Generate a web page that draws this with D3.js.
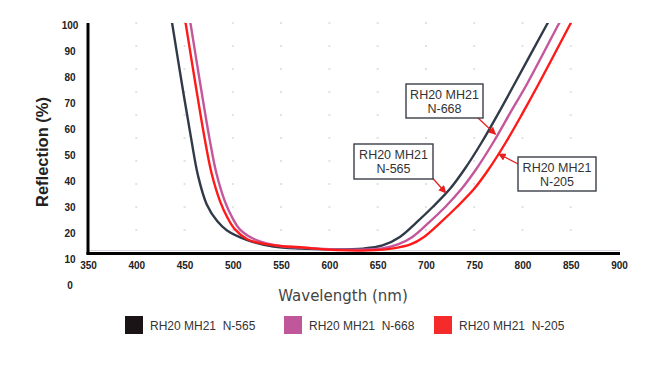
<!DOCTYPE html>
<html>
<head>
<meta charset="utf-8">
<script src="https://cdn.jsdelivr.net/npm/d3@7"></script>
<style>
  body { margin: 0; background: #fff; }
  svg { display: block; }
</style>
</head>
<body>
<svg id="chart" width="671" height="377"></svg>
<script>
// tick labels
const xTicks = [350, 400, 450, 500, 550, 600, 650, 700, 750, 800, 850, 900];
const yTicks = [100, 90, 80, 70, 60, 50, 40, 30, 20, 10, 0];

// series names (legend order)
const names = ["RH20 MH21  N-565", "RH20 MH21  N-668", "RH20 MH21  N-205"];

// [wavelength nm, reflection %]
const n565 = [[437, 101], [447, 78], [457, 56], [464, 42], [473, 31], [484, 24.5], [494, 21], [515, 17.3],
  [542, 14.8], [570, 14], [605, 13.7], [635, 14], [655, 15.2], [673, 18.5], [690, 24], [707, 30],
  [725, 37], [740, 44.5], [758, 55], [775, 66], [792, 77.5], [825, 100], [828, 102]];
const n668 = [[456, 101], [466, 78], [476, 56], [483, 43], [492, 32], [500, 25.5], [507, 21.5], [523, 17.5],
  [549, 15], [580, 14.2], [611, 13.6], [640, 13.7], [656, 14.2], [671, 15.6], [686, 18.5], [703, 24],
  [720, 30], [737, 37], [752, 44.5], [770, 55], [787, 66], [805, 77.5], [837, 100], [840, 102]];
const n205 = [[451, 101], [461, 78], [471, 56], [478, 43], [487, 32], [495, 25.5], [502, 21.5], [515, 17.6],
  [530, 16], [549, 15], [570, 14.5], [608, 13.4], [640, 13.3], [668, 14.2], [684, 15.6], [698, 18.5],
  [715, 24], [732, 30], [750, 37], [765, 44.5], [783, 55], [800, 66], [817, 77.5], [849, 100], [852, 102]];

const colors = ["#303a48", "#c4579c", "#ff1a1a"];
const swatch = ["#1a1416", "#c0579a", "#f52a2a"];

// callouts: label lines, box position, arrow tail and tip (tip in data units)
const callouts = [
  { lines: ["RH20 MH21", "N-668"], box: [406, 84, 77, 34], tail: [477, 117], tip: [772, 58] },
  { lines: ["RH20 MH21", "N-565"], box: [354, 144, 79, 35], tail: [428, 173], tip: [720.5, 35.5] },
  { lines: ["RH20 MH21", "N-205"], box: [518, 157, 78, 34], tail: [520, 165], tip: [775.5, 50.4] }
];

const svg = d3.select("#chart");
const plotL = 88, plotR = 620, plotT = 23, plotB = 253;

const x = d3.scaleLinear().domain([350, 900]).range([88, 619]);
const y = d3.scaleLinear().domain([0, 100]).range([285, 25]);
const gridRow = d3.scaleLinear().domain([0, 10]).range([plotB, plotT]);

// faint dotted grid: dots where tick columns meet grid rows
const dots = [];
xTicks.slice(1, -1).forEach(t => d3.range(0, 11).forEach(r => dots.push([t, r])));
svg.append("g").selectAll("rect").data(dots).join("rect")
  .attr("x", d => x(d[0]) - 1).attr("y", d => gridRow(d[1]) - 1)
  .attr("width", 2).attr("height", 2).attr("fill", "#e2e2e6");

svg.append("line").attr("x1", plotL).attr("x2", plotR).attr("y1", 250.5).attr("y2", 250.5)
  .attr("stroke", "#d4d4e2").attr("stroke-width", 1);

// curves
const defs = svg.append("defs");
defs.append("clipPath").attr("id", "plot")
  .append("rect").attr("x", plotL + 1).attr("y", plotT).attr("width", plotR - plotL).attr("height", plotB - plotT - 1);

const line = d3.line().x(d => x(d[0])).y(d => y(d[1])).curve(d3.curveCatmullRom.alpha(0.5));
svg.append("g").attr("clip-path", "url(#plot)")
  .selectAll("path").data([n565, n668, n205]).join("path")
  .attr("d", line).attr("fill", "none")
  .attr("stroke", (d, i) => colors[i]).attr("stroke-width", 2.4);

// axis lines
svg.append("line").attr("x1", plotL).attr("x2", plotL).attr("y1", plotT).attr("y2", plotB + 1.5)
  .attr("stroke", "#000").attr("stroke-width", 3);
svg.append("line").attr("x1", plotL - 1.5).attr("x2", plotR).attr("y1", plotB + 0.5).attr("y2", plotB + 0.5)
  .attr("stroke", "#000").attr("stroke-width", 3);

// tick labels
const gx = svg.append("g").attr("transform", "translate(0,256)")
  .call(d3.axisBottom(x).tickValues(xTicks).tickSize(0).tickPadding(6));
gx.select(".domain").remove();
gx.selectAll("text").attr("font-family", "Liberation Sans, Arial, sans-serif")
  .attr("font-size", 10).attr("font-weight", "bold").attr("fill", "#222");

const gy = svg.append("g").attr("transform", "translate(70,0)")
  .call(d3.axisLeft(y).tickValues(yTicks).tickSize(0).tickPadding(0));
gy.select(".domain").remove();
gy.selectAll("text").attr("text-anchor", "middle")
  .attr("font-family", "Liberation Sans, Arial, sans-serif")
  .attr("font-size", 10).attr("font-weight", "bold").attr("fill", "#222");

// axis titles
svg.append("text").attr("transform", "translate(48,152) rotate(-90)")
  .attr("text-anchor", "middle").attr("font-family", "Liberation Sans, Arial, sans-serif")
  .attr("font-size", 16.5).attr("font-weight", "bold").attr("fill", "#222")
  .text("Reflection (%)");
svg.append("text").attr("x", 343).attr("y", 301).attr("text-anchor", "middle")
  .attr("font-family", "DejaVu Sans, Verdana, sans-serif").attr("font-size", 15).attr("fill", "#444")
  .text("Wavelength (nm)");

// callouts
defs.append("marker").attr("id", "arrow")
  .attr("viewBox", "0 0 8 8").attr("refX", 7).attr("refY", 4)
  .attr("markerWidth", 6).attr("markerHeight", 6).attr("orient", "auto")
  .append("path").attr("d", "M0,0L8,4L0,8z").attr("fill", "#e82020");

const co = svg.append("g").selectAll("g").data(callouts).join("g");
co.append("line")
  .attr("x1", d => d.tail[0]).attr("y1", d => d.tail[1])
  .attr("x2", d => x(d.tip[0])).attr("y2", d => y(d.tip[1]))
  .attr("stroke", "#e82020").attr("stroke-width", 1.3).attr("marker-end", "url(#arrow)");
co.append("rect")
  .attr("x", d => d.box[0]).attr("y", d => d.box[1]).attr("width", d => d.box[2]).attr("height", d => d.box[3])
  .attr("fill", "#fff").attr("stroke", "#3a3f48").attr("stroke-width", 1.4);
co.each(function (d) {
  d3.select(this).selectAll("text").data(d.lines).join("text")
    .attr("x", d.box[0] + d.box[2] / 2).attr("y", (t, i) => d.box[1] + 15 + i * 14)
    .attr("text-anchor", "middle").attr("font-family", "Liberation Sans, Arial, sans-serif")
    .attr("font-size", 12.5).attr("fill", "#333").text(t => t);
});

// legend
const legX = [125, 284, 434];
const leg = svg.append("g").selectAll("g").data(names).join("g")
  .attr("transform", (d, i) => `translate(${legX[i]},316)`);
leg.append("rect").attr("width", 18).attr("height", 18).attr("fill", (d, i) => swatch[i]);
leg.append("text").attr("x", 25).attr("y", 13.5)
  .attr("font-family", "Liberation Sans, Arial, sans-serif").attr("font-size", 12)
  .attr("fill", "#333").style("white-space", "pre").text(d => d);
</script>
</body>
</html>
